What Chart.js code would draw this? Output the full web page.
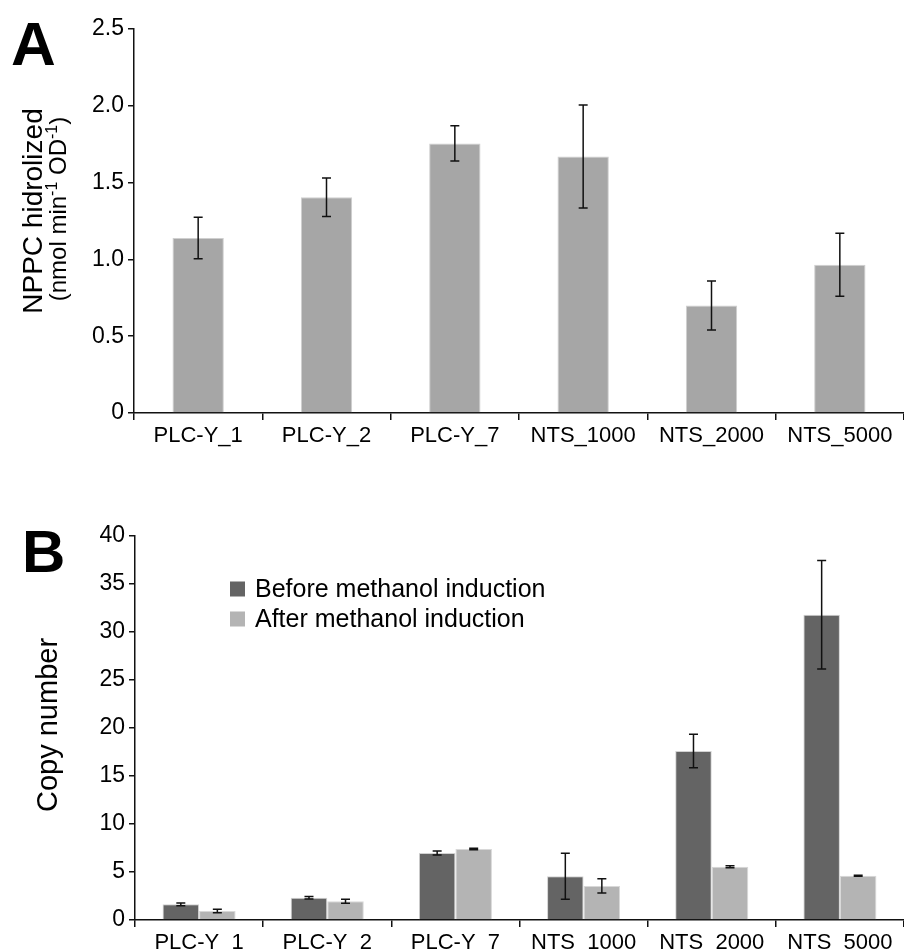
<!DOCTYPE html>
<html>
<head>
<meta charset="utf-8">
<script src="https://cdn.jsdelivr.net/npm/chart.js@4.4.0/dist/chart.umd.min.js"></script>
<style>
    html, body { margin: 0; padding: 0; background: #fff; }
    #wrap { position: relative; width: 904px; height: 951px; overflow: hidden; }
    canvas { position: absolute; left: 0; }
    #chartA { top: 0; }
    #chartB { top: 470px; }
</style>
</head>
<body>
<div id="wrap">
    <canvas id="chartA" width="904" height="470"></canvas>
    <canvas id="chartB" width="904" height="481"></canvas>
</div>
<script>
// Linhagens (eixo x, igual nos dois painéis)
const strains = ['PLC-Y_1', 'PLC-Y_2', 'PLC-Y_7', 'NTS_1000', 'NTS_2000', 'NTS_5000'];

// Painel A - NPPC hidrolizado
const nppcValues = [1.14, 1.405, 1.755, 1.67, 0.70, 0.965];
const nppcErrors = [0.135, 0.125, 0.115, 0.335, 0.16, 0.205];
const ticksA = [0, 0.5, 1.0, 1.5, 2.0, 2.5];
const tickLabelsA = ['0', '0.5', '1.0', '1.5', '2.0', '2.5'];

// Painel B - número de cópias
const seriesB = ['Before methanol induction', 'After methanol induction'];
const copyBefore = [1.63, 2.32, 6.98, 4.55, 17.6, 31.8];
const copyBeforeErr = [0.15, 0.13, 0.22, 2.4, 1.75, 5.65];
const copyAfter = [0.94, 1.95, 7.4, 3.55, 5.55, 4.6];
const copyAfterErr = [0.18, 0.2, 0.07, 0.75, 0.1, 0.05];
const ticksB = [0, 5, 10, 15, 20, 25, 30, 35, 40];

const FONT = "'Liberation Sans', Arial, Helvetica, sans-serif";

// Barras de erro desenhadas a partir das escalas
const errorBars = {
    id: 'errorBars',
    afterDatasetsDraw(chart) {
        const ctx = chart.ctx;
        const y = chart.scales.y;
        chart.data.datasets.forEach((ds, di) => {
            if (!ds.errors) return;
            const meta = chart.getDatasetMeta(di);
            meta.data.forEach((bar, i) => {
                const v = ds.data[i], e = ds.errors[i];
                const top = y.getPixelForValue(v + e);
                const bot = y.getPixelForValue(v - e);
                const cap = 4.5;
                ctx.save();
                ctx.strokeStyle = '#111';
                ctx.lineWidth = 1.5;
                ctx.beginPath();
                ctx.moveTo(bar.x, top); ctx.lineTo(bar.x, bot);
                ctx.moveTo(bar.x - cap, top); ctx.lineTo(bar.x + cap, top);
                ctx.moveTo(bar.x - cap, bot); ctx.lineTo(bar.x + cap, bot);
                ctx.stroke();
                ctx.restore();
            });
        });
    }
};

// Textos extras: letra do painel, título do eixo y, legenda
const decorations = {
    id: 'decorations',
    afterDraw(chart, args, opts) {
        const ctx = chart.ctx;
        ctx.save();
        ctx.fillStyle = '#000';
        ctx.textBaseline = 'alphabetic';
        ctx.font = 'bold ' + opts.letterSize + 'px ' + FONT;
        ctx.textAlign = 'left';
        ctx.fillText(opts.letter, opts.letterX, opts.letterY);

        // título rotacionado, em partes (para os expoentes)
        (opts.titles || []).forEach(t => {
            let total = 0;
            t.parts.forEach(p => {
                ctx.font = p.size + 'px ' + FONT;
                total += ctx.measureText(p.text).width;
            });
            ctx.save();
            ctx.translate(t.x, t.y);
            ctx.rotate(-Math.PI / 2);
            let pos = -total / 2;
            t.parts.forEach(p => {
                ctx.font = p.size + 'px ' + FONT;
                ctx.fillText(p.text, pos, -(p.raise || 0));
                pos += ctx.measureText(p.text).width;
            });
            ctx.restore();
        });

        if (opts.legend) {
            const lg = opts.legend;
            ctx.font = lg.size + 'px ' + FONT;
            ctx.textBaseline = 'middle';
            chart.data.datasets.forEach((ds, i) => {
                const yy = lg.y + i * lg.spacing;
                ctx.fillStyle = ds.backgroundColor;
                ctx.fillRect(lg.x, yy - 7.5, 15, 15);
                ctx.fillStyle = '#000';
                ctx.fillText(ds.label, lg.x + 25, yy + 1);
            });
        }
        ctx.restore();
    }
};

function axisX(height) {
    return {
        offset: true,
        grid: { display: true, drawOnChartArea: false, drawTicks: true, tickLength: 7, color: '#111', lineWidth: 1.5, offset: true },
        border: { display: true, color: '#111', width: 1.5 },
        ticks: { color: '#000', font: { family: FONT, size: 22 }, padding: 3, maxRotation: 0, autoSkip: false },
        afterFit: s => { s.height = height; }
    };
}

function axisY(min, max, tickValues, fmt, width) {
    return {
        min: min,
        max: max,
        grid: { display: true, drawOnChartArea: false, drawTicks: true, tickLength: 6, color: '#111', lineWidth: 1.5 },
        border: { display: true, color: '#111', width: 1.5 },
        ticks: { color: '#000', font: { family: FONT, size: 23 }, padding: 4, callback: fmt },
        afterBuildTicks: s => { s.ticks = tickValues.map(v => ({ value: v })); },
        afterFit: s => { s.width = width; }
    };
}

new Chart(document.getElementById('chartA'), {
    type: 'bar',
    data: {
        labels: strains,
        datasets: [{
            label: 'NPPC',
            data: nppcValues,
            errors: nppcErrors,
            backgroundColor: '#a6a6a6',
            borderColor: '#cfcfcf',
            borderWidth: 1,
            barPercentage: 0.4,
            categoryPercentage: 1.0
        }]
    },
    options: {
        responsive: false,
        animation: false,
        devicePixelRatio: 1,
        layout: { padding: { top: 29, left: 0, right: 0, bottom: 0 } },
        scales: {
            x: axisX(57),
            y: axisY(0, 2.5, ticksA, (v, i) => tickLabelsA[i], 134)
        },
        plugins: {
            legend: { display: false },
            tooltip: { enabled: false },
            decorations: {
                letter: 'A', letterX: 11, letterY: 65, letterSize: 62,
                titles: [
                    { x: 42, y: 211, parts: [{ text: 'NPPC hidrolized', size: 28 }] },
                    { x: 66, y: 209, parts: [
                        { text: '(nmol min', size: 24 },
                        { text: '-1', size: 16, raise: 9 },
                        { text: ' OD', size: 24 },
                        { text: '-1', size: 16, raise: 9 },
                        { text: ')', size: 24 }
                    ] }
                ]
            }
        }
    },
    plugins: [errorBars, decorations]
});

new Chart(document.getElementById('chartB'), {
    type: 'bar',
    data: {
        labels: strains,
        datasets: [{
            label: seriesB[0],
            data: copyBefore,
            errors: copyBeforeErr,
            backgroundColor: '#646464',
            borderColor: '#d2d2d2',
            borderWidth: 1,
            barPercentage: 1.0,
            categoryPercentage: 0.57
        }, {
            label: seriesB[1],
            data: copyAfter,
            errors: copyAfterErr,
            backgroundColor: '#b4b4b4',
            borderColor: '#d8d8d8',
            borderWidth: 1,
            barPercentage: 1.0,
            categoryPercentage: 0.57
        }]
    },
    options: {
        responsive: false,
        animation: false,
        devicePixelRatio: 1,
        layout: { padding: { top: 66, left: 0, right: 0, bottom: 0 } },
        scales: {
            x: axisX(31),
            y: axisY(0, 40, ticksB, v => String(v), 135)
        },
        plugins: {
            legend: { display: false },
            tooltip: { enabled: false },
            decorations: {
                letter: 'B', letterX: 22, letterY: 102, letterSize: 60,
                titles: [
                    { x: 57, y: 255, parts: [{ text: 'Copy number', size: 29 }] }
                ],
                legend: { x: 230, y: 119, spacing: 30, size: 25 }
            }
        }
    },
    plugins: [errorBars, decorations]
});
</script>
</body>
</html>
